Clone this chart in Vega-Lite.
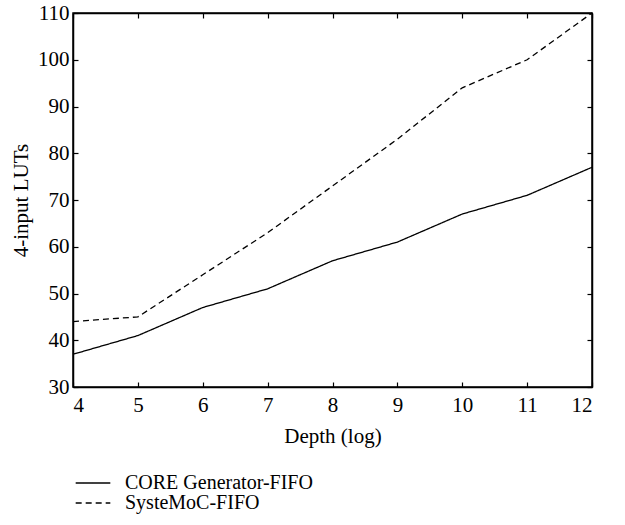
{
  "$schema": "https://vega.github.io/schema/vega-lite/v6.json",
  "width": 519,
  "height": 374,
  "autosize": {"type": "none"},
  "padding": {"left": 73, "top": 13, "right": 33, "bottom": 138},
  "background": "white",
  "config": {
    "font": "Liberation Serif",
    "view": {"stroke": "black", "strokeWidth": 1.5},
    "axis": {
      "grid": false,
      "domainColor": "black",
      "domainWidth": 1.5,
      "tickColor": "black",
      "tickWidth": 1.2,
      "labelFont": "Liberation Serif",
      "labelFontSize": 21,
      "labelColor": "black",
      "titleFont": "Liberation Serif",
      "titleFontSize": 21,
      "titleFontWeight": "normal",
      "titleColor": "black"
    },
    "legend": {
      "labelFont": "Liberation Serif",
      "labelFontSize": 20,
      "labelColor": "black",
      "labelLimit": 400
    }
  },
  "data": {
    "values": [
      {"depth": 4, "luts": 37, "series": "CORE Generator-FIFO"},
      {"depth": 5, "luts": 41, "series": "CORE Generator-FIFO"},
      {"depth": 6, "luts": 47, "series": "CORE Generator-FIFO"},
      {"depth": 7, "luts": 51, "series": "CORE Generator-FIFO"},
      {"depth": 8, "luts": 57, "series": "CORE Generator-FIFO"},
      {"depth": 9, "luts": 61, "series": "CORE Generator-FIFO"},
      {"depth": 10, "luts": 67, "series": "CORE Generator-FIFO"},
      {"depth": 11, "luts": 71, "series": "CORE Generator-FIFO"},
      {"depth": 12, "luts": 77, "series": "CORE Generator-FIFO"},
      {"depth": 4, "luts": 44, "series": "SysteMoC-FIFO"},
      {"depth": 5, "luts": 45, "series": "SysteMoC-FIFO"},
      {"depth": 6, "luts": 54, "series": "SysteMoC-FIFO"},
      {"depth": 7, "luts": 63, "series": "SysteMoC-FIFO"},
      {"depth": 8, "luts": 73, "series": "SysteMoC-FIFO"},
      {"depth": 9, "luts": 83, "series": "SysteMoC-FIFO"},
      {"depth": 10, "luts": 94, "series": "SysteMoC-FIFO"},
      {"depth": 11, "luts": 100, "series": "SysteMoC-FIFO"},
      {"depth": 12, "luts": 110, "series": "SysteMoC-FIFO"}
    ]
  },
  "layer": [
    {
      "mark": {"type": "line", "color": "black", "strokeWidth": 1.3},
      "encoding": {
        "x": {
          "field": "depth", "type": "quantitative",
          "scale": {"domain": [4, 12], "nice": false, "zero": false},
          "axis": {"title": "Depth (log)", "values": [4,5,6,7,8,9,10,11,12], "tickSize": -5, "labelPadding": 12, "titlePadding": 10}
        },
        "y": {
          "field": "luts", "type": "quantitative",
          "scale": {"domain": [30, 110], "nice": false, "zero": false},
          "axis": {"title": "4-input LUTs", "values": [30,40,50,60,70,80,90,100,110], "tickSize": -5, "labelPadding": 9, "titlePadding": 6}
        },
        "strokeDash": {
          "field": "series", "type": "nominal",
          "scale": {"domain": ["CORE Generator-FIFO", "SysteMoC-FIFO"], "range": [[1, 0], [6, 4]]},
          "legend": {"title": null, "orient": "none", "legendX": 10, "legendY": 460, "symbolType": "M-2,0H2", "symbolSize": 300, "symbolStrokeColor": "black", "symbolStrokeWidth": 1.3, "symbolFillColor": "transparent", "rowPadding": 0, "labelOffset": 22}
        },
        "detail": {"field": "series"}
      }
    },
    {
      "mark": {"type": "line", "opacity": 0},
      "encoding": {
        "x": {
          "field": "depth", "type": "quantitative",
          "scale": {"domain": [4, 12], "nice": false, "zero": false},
          "axis": {"orient": "top", "title": null, "labels": false, "values": [4,5,6,7,8,9,10,11,12], "tickSize": -5}
        },
        "y": {
          "field": "luts", "type": "quantitative",
          "scale": {"domain": [30, 110], "nice": false, "zero": false},
          "axis": {"orient": "right", "title": null, "labels": false, "values": [30,40,50,60,70,80,90,100,110], "tickSize": -5}
        },
        "detail": {"field": "series"}
      }
    }
  ],
  "resolve": {"axis": {"x": "independent", "y": "independent"}}
}
